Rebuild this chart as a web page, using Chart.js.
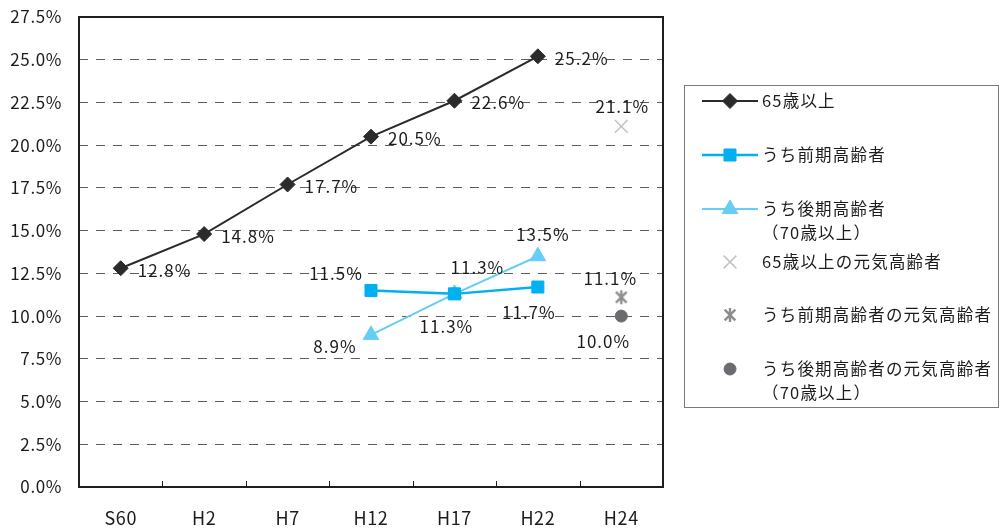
<!DOCTYPE html>
<html lang="ja">
<head>
<meta charset="utf-8">
<script src="https://cdn.jsdelivr.net/npm/chart.js@4/dist/chart.umd.min.js"></script>
<style>
  html, body { margin: 0; padding: 0; background: #fff; }
  #wrap { width: 1000px; height: 532px; position: relative; }
</style>
</head>
<body>
<div id="wrap"><canvas id="c" width="1000" height="532"></canvas></div>
<script>
// Survey years
const categories = ['S60', 'H2', 'H7', 'H12', 'H17', 'H22', 'H24'];

// Share of population (%)
const age65Plus      = [12.8, 14.8, 17.7, 20.5, 22.6, 25.2, null];
const earlyElderly   = [null, null, null, 11.5, 11.3, 11.7, null];
const lateElderly    = [null, null, null, 8.9, 11.3, 13.5, null];
const active65Plus   = [null, null, null, null, null, null, 21.1];
const activeEarly    = [null, null, null, null, null, null, 11.1];
const activeLate     = [null, null, null, null, null, null, 10.0];

// Axis
const yMin = 0, yMax = 27.5, yStep = 2.5;

const FONT = '"Noto Sans CJK JP", "Noto Sans", sans-serif';
const TEXT = '#1c1c1c';

// six-armed asterisk marker
function makeAsterisk(color) {
  const s = 16, c = document.createElement('canvas');
  c.width = s; c.height = s;
  const g = c.getContext('2d');
  g.strokeStyle = color; g.lineWidth = 2.4; g.lineCap = 'butt';
  const m = s / 2, r = 6.5, d = r * 0.82;
  g.beginPath();
  g.moveTo(m - d, m - d); g.lineTo(m + d, m + d);
  g.moveTo(m + d, m - d); g.lineTo(m - d, m + d);
  g.moveTo(m, m - r - 0.5); g.lineTo(m, m + r + 0.5);
  g.stroke();
  return c;
}
const asterisk = makeAsterisk('#8e8e8e');

const datasets = [
  { label: '65歳以上', data: age65Plus, borderColor: '#2b2b2b', backgroundColor: '#2b2b2b',
    borderWidth: 2, pointStyle: 'rectRot', pointRadius: 7.5, pointBorderWidth: 1,
    labelOffsets: Array(7).fill([17, 2, 'left']), legendLines: ['65歳以上'], legendLine: true },
  { label: 'うち前期高齢者', data: earlyElderly, borderColor: '#00b0f0', backgroundColor: '#00b0f0',
    borderWidth: 2.5, pointStyle: 'rect', pointRadius: 8.5, pointBorderWidth: 1,
    labelOffsets: [null, null, null, [-35, -17, 'center'], [-8, 33, 'center'], [-9, 26, 'center'], null],
    legendLines: ['うち前期高齢者'], legendLine: true },
  { label: 'うち後期高齢者（70歳以上）', data: lateElderly, borderColor: '#66cdf5', backgroundColor: '#66cdf5',
    borderWidth: 2, pointStyle: 'triangle', pointRadius: 9, pointBorderWidth: 1,
    labelOffsets: [null, null, null, [-36, 12, 'center'], [23, -26, 'center'], [5, -22, 'center'], null],
    legendLines: ['うち後期高齢者', '（70歳以上）'], legendLine: true },
  { label: '65歳以上の元気高齢者', data: active65Plus, borderColor: '#c4c4c4', backgroundColor: '#c4c4c4',
    showLine: false, pointStyle: 'crossRot', pointRadius: 9, pointBorderWidth: 1.6,
    labelOffsets: [null, null, null, null, null, null, [1, -20, 'center']],
    legendLines: ['65歳以上の元気高齢者'], legendLine: false },
  { label: 'うち前期高齢者の元気高齢者', data: activeEarly, borderColor: '#8e8e8e', backgroundColor: '#8e8e8e',
    showLine: false, pointStyle: asterisk, pointRadius: 8,
    labelOffsets: [null, null, null, null, null, null, [-11, -19, 'center']],
    legendLines: ['うち前期高齢者の元気高齢者'], legendLine: false },
  { label: 'うち後期高齢者の元気高齢者（70歳以上）', data: activeLate, borderColor: '#6b6b70', backgroundColor: '#6b6b70',
    showLine: false, pointStyle: 'circle', pointRadius: 6, pointBorderWidth: 1,
    labelOffsets: [null, null, null, null, null, null, [-18, 25, 'center']],
    legendLines: ['うち後期高齢者の元気高齢者', '（70歳以上）'], legendLine: false }
];
datasets.forEach(d => { d.spanGaps = false; d.tension = 0; d.pointHoverRadius = d.pointRadius; });

// slightly spaced lettering for all canvas text
const spacing = {
  id: 'spacing',
  beforeDraw(chart) { chart.ctx.letterSpacing = '0.6px'; }
};

// plot frame, inner x ticks, value labels and the boxed legend
const decorations = {
  id: 'decorations',
  afterDatasetsDraw(chart) {
    const { ctx, chartArea: a, scales: { x } } = chart;
    ctx.save();
    // inward tick marks between categories
    ctx.strokeStyle = '#222'; ctx.lineWidth = 1;
    for (let i = 1; i < categories.length; i++) {
      const px = Math.round((x.getPixelForValue(i - 1) + x.getPixelForValue(i)) / 2) + 0.5;
      ctx.beginPath(); ctx.moveTo(px, a.bottom); ctx.lineTo(px, a.bottom - 6); ctx.stroke();
    }
    // frame
    ctx.lineWidth = 2; ctx.strokeStyle = '#1e1e1e';
    ctx.strokeRect(a.left, a.top, a.right - a.left, a.bottom - a.top);

    // value labels
    ctx.letterSpacing = '1px';
    ctx.font = '17px ' + FONT; ctx.fillStyle = TEXT; ctx.textBaseline = 'middle';
    chart.data.datasets.forEach((ds, di) => {
      const meta = chart.getDatasetMeta(di);
      ds.data.forEach((v, i) => {
        if (v == null || !ds.labelOffsets[i]) return;
        const [dx, dy, align] = ds.labelOffsets[i];
        const p = meta.data[i];
        ctx.textAlign = align;
        ctx.fillText(v.toFixed(1) + '%', p.x + dx, p.y + dy);
      });
    });

    // legend box
    const bx = 684.5, by = 85.5, bw = 314, bh = 322;
    ctx.lineWidth = 1; ctx.strokeStyle = '#7a7a7a';
    ctx.strokeRect(bx, by, bw, bh);
    const rows = [101, 155, 209, 262, 315, 369];
    ctx.textAlign = 'left'; ctx.font = '16.5px ' + FONT; ctx.letterSpacing = '1.2px';
    chart.data.datasets.forEach((ds, di) => {
      const cy = rows[di];
      if (ds.legendLine) {
        ctx.strokeStyle = ds.borderColor; ctx.lineWidth = ds.borderWidth;
        ctx.beginPath(); ctx.moveTo(702, cy); ctx.lineTo(758, cy); ctx.stroke();
      }
      ctx.fillStyle = ds.backgroundColor; ctx.strokeStyle = ds.borderColor;
      ctx.lineWidth = ds.pointBorderWidth || 1;
      Chart.helpers.drawPoint(ctx, { pointStyle: ds.pointStyle, radius: ds.pointRadius, rotation: 0, borderWidth: ds.pointBorderWidth || 1 }, 730, cy);
      ctx.fillStyle = TEXT;
      ds.legendLines.forEach((t, k) => ctx.fillText(t, 762, cy + k * 24));
    });
    ctx.restore();
  }
};

new Chart(document.getElementById('c'), {
  type: 'line',
  data: { labels: categories, datasets },
  options: {
    responsive: false,
    animation: false,
    layout: { padding: { top: 17, right: 337, left: 0, bottom: 0 } },
    plugins: { legend: { display: false }, tooltip: { enabled: false } },
    scales: {
      x: {
        offset: true,
        grid: { display: false },
        border: { display: false },
        ticks: { color: TEXT, font: { family: FONT, size: 18 }, padding: 12, maxRotation: 0 },
        afterFit: s => { s.height = 45; s.paddingLeft = 0; s.paddingRight = 0; }
      },
      y: {
        min: yMin, max: yMax,
        grid: { color: '#5e5e5e', lineWidth: 1, drawTicks: false },
        border: { display: false, dash: [9, 8] },
        ticks: {
          stepSize: yStep, color: TEXT, padding: 17,
          font: { family: FONT, size: 17 },
          callback: v => v.toFixed(1) + '%'
        },
        afterFit: s => { s.width = 79; s.paddingTop = 0; s.paddingBottom = 0; }
      }
    }
  },
  plugins: [spacing, decorations]
});
</script>
</body>
</html>
